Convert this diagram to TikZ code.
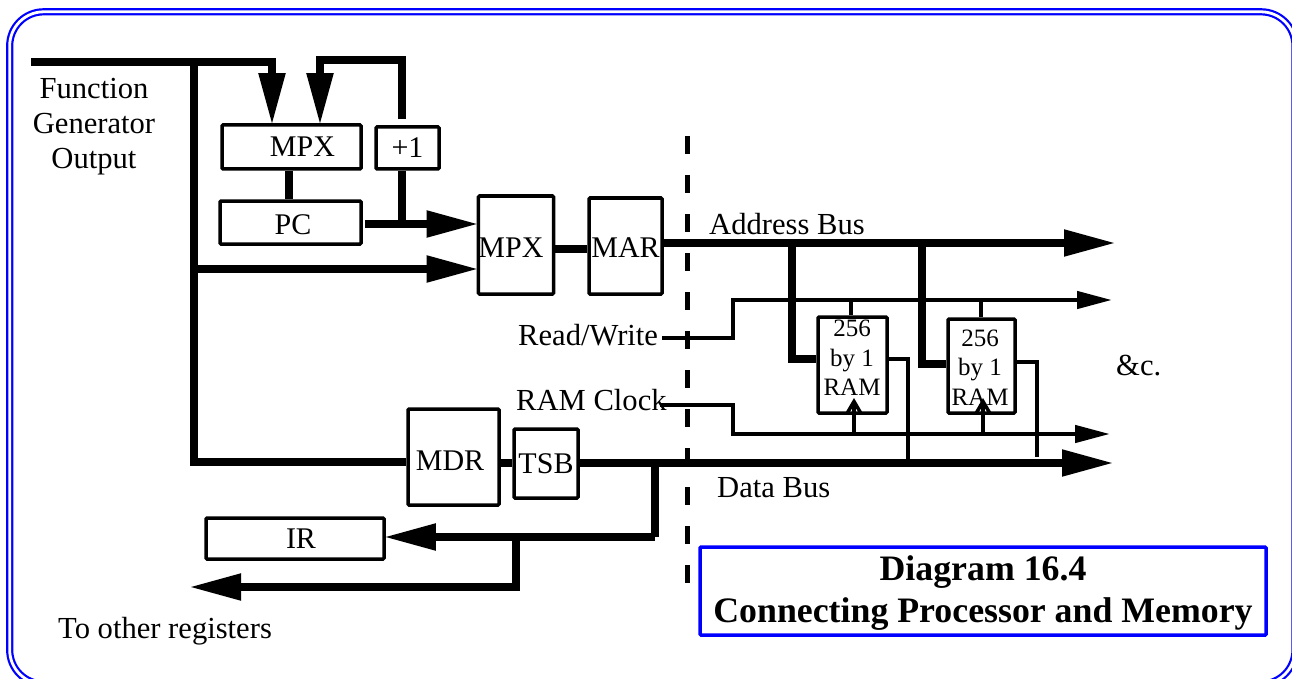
\documentclass[tikz,border=0pt]{standalone}
\usepackage{fontspec}
\setmainfont{Liberation Serif}
\usetikzlibrary{arrows.meta}

\newcommand{\lowered}[2]{\raisebox{-#1}[\height][\depth]{#2}}

\tikzset{
    regbox/.style={draw=black,line width=3.5pt,rounded corners=1pt,inner sep=0pt,font=\fontsize{30}{35}\selectfont},
    ramtext/.style={align=center,font=\fontsize{25}{29.5}\selectfont},
    wiretext/.style={align=center,font=\fontsize{30.6}{35}\selectfont},
    thickbus/.style={line width=8pt},
    thinbus/.style={line width=4.5pt},
    thinwire/.style={line width=3.5pt},
    bigtip/.style={-{Triangle[length=52pt,width=25pt]},shorten >=-2pt},
    smalltip/.style={-{Triangle[length=35pt,width=17pt]},shorten >=-2pt},
    opentip/.style={-{Straight Barb[length=12pt,width=14pt]}},
}

\begin{document}
\begin{tikzpicture}[x=1pt,y=-1pt]
    \clip (0,0) rectangle (1292,679);

    % frame
    \draw[blue,double,line width=2.2pt,double distance=2.8pt,rounded corners=34pt] (9.7,11.8) rectangle (1295,684);

    % registers
    \node[regbox,minimum width=139pt,minimum height=44pt] (mpxa) at (291.5,147) {\hspace*{22pt}MPX};
    \node[regbox,minimum width=63pt,minimum height=42pt] (inc) at (407.5,148) {+1};
    \node[regbox,minimum width=141pt,minimum height=43pt] (pc) at (290.5,222.5) {\hspace*{5pt}\lowered{2pt}{PC}};
    \node[regbox,minimum width=74pt,minimum height=98pt] (mpxb) at (516,245) {\lowered{3pt}{MPX}\hspace*{10pt}};
    \node[regbox,minimum width=73pt,minimum height=96pt] (mar) at (625.5,246) {\lowered{2pt}{MAR}};
    \node[regbox,minimum width=91pt,minimum height=96pt] (mdr) at (453.5,457) {\hspace*{-7pt}\lowered{4pt}{MDR}};
    \node[regbox,minimum width=64pt,minimum height=69pt] (tsb) at (546,463.5) {TSB};
    \node[regbox,minimum width=178pt,minimum height=41pt] (ir) at (295,538.5) {\hspace*{12pt}IR};
    \node[regbox,minimum width=69pt,minimum height=96pt] (rama) at (852.5,365) {};
    \node[regbox,minimum width=67pt,minimum height=94pt] (ramb) at (981.5,366) {};
    \node[ramtext] (ramtexta) at (852,358) {256\\by 1\\RAM};
    \node[ramtext] (ramtextb) at (980,367.5) {256\\by 1\\RAM};

    % labels
    \node[wiretext] (fgo) at (94,127) {Function\\Generator\\Output};
    \node[wiretext,anchor=west,inner sep=0pt] (addrlabel) at (709,224) {Address Bus};
    \node[wiretext,anchor=west,inner sep=0pt] (rwlabel) at (518,335) {Read/Write};
    \node[wiretext,anchor=west,inner sep=0pt] (clklabel) at (516,400) {RAM Clock};
    \node[wiretext,anchor=west,inner sep=0pt] (datalabel) at (717,488) {Data Bus};
    \node[wiretext,anchor=west,inner sep=0pt] (etc) at (1116,366) {\&c.};
    \node[wiretext,anchor=west,inner sep=0pt] (others) at (58,631) {To other registers};
    \node[draw=blue,line width=3.5pt,rounded corners=1pt,minimum width=566pt,minimum height=88pt,inner sep=0pt,
        align=center,font=\fontsize{35.8}{42}\selectfont\bfseries] (title) at (983,591)
        {\lowered{2pt}{Diagram 16.4}\\\lowered{2pt}{Connecting Processor and Memory}};

    % junctions
    \coordinate (fnout) at (31,62);
    \coordinate (fncorner) at (272,62);
    \coordinate (fnjoin) at (194,62);
    \coordinate (lowcorner) at (194,462);
    \coordinate (pcout) at (365,224);
    \coordinate (incjoin) at (402,224);
    \coordinate (loopcorner) at (402,60);
    \coordinate (loopend) at (320,60);
    \coordinate (addrout) at (1114,243);
    \coordinate (rwstart) at (662,338);
    \coordinate (rwout) at (1110,300);
    \coordinate (clkstart) at (660,405);
    \coordinate (clkout) at (1108,434);
    \coordinate (dataout) at (1112,463);
    \coordinate (irjoin) at (655,537);
    \coordinate (othersjoin) at (516,537);
    \coordinate (othersout) at (191,587);

    % thick buses
    \draw[thickbus,bigtip] (fnout) -- (fncorner) -- (fncorner |- mpxa.north);
    \draw[thickbus,bigtip] (inc.north -| loopcorner) ++(0,-6) -- (loopcorner) -- (loopend) -- (loopend |- mpxa.north);
    \draw[thickbus] (fnjoin) -- (lowcorner) -- (lowcorner -| mdr.west);
    \draw[thickbus,bigtip] (pcout) -- (pcout -| mpxb.west);
    \draw[thickbus,bigtip] (fnjoin |- 0,269) -- (mpxb.west |- 0,269);
    \draw[thickbus] (inc.south -| incjoin) -- (incjoin);
    \draw[thickbus] (mpxa.south -| 289,0) -- (pc.north -| 289,0);
    \draw[thickbus] (mpxb.east |- 0,249) -- (mar.west |- 0,249);
    \draw[thickbus,bigtip] (mar.east |- addrout) -- (addrout);
    \draw[thickbus] (792,243) |- (rama.west |- 0,359);
    \draw[thickbus] (922,243) |- (ramb.west |- 0,364);
    \draw[thickbus] (mdr.east |- dataout) -- (tsb.west |- dataout);
    \draw[thickbus,bigtip] (tsb.east |- dataout) -- (dataout);
    \draw[thickbus] (655,463) -- (irjoin);
    \draw[thickbus,bigtip] (irjoin) -- (ir.east |- irjoin);
    \draw[thickbus,bigtip] (othersjoin) |- (othersout);

    % control wires
    \draw[thinbus,smalltip] (rwstart) -- (733,338) -- (733,300) -- (rwout);
    \draw[thinbus,smalltip] (clkstart) -- (733,405) -- (733,434) -- (clkout);
    \draw[thinwire] (851,300) -- (rama.north -| 851,0);
    \draw[thinwire] (981,300) -- (ramb.north -| 981,0);
    \draw[thinwire,opentip] (854,434) -- (854,398);
    \draw[thinwire,opentip] (983,432) -- (983,398);
    \draw[thinwire] (rama.east |- 0,359) -| (908,462);
    \draw[thinwire] (ramb.east |- 0,362) -| (1037,457);

    % chip boundary
    \draw[line width=5pt,dash pattern=on 18pt off 21pt] (687,136) -- (687,583);
\end{tikzpicture}
\end{document}
